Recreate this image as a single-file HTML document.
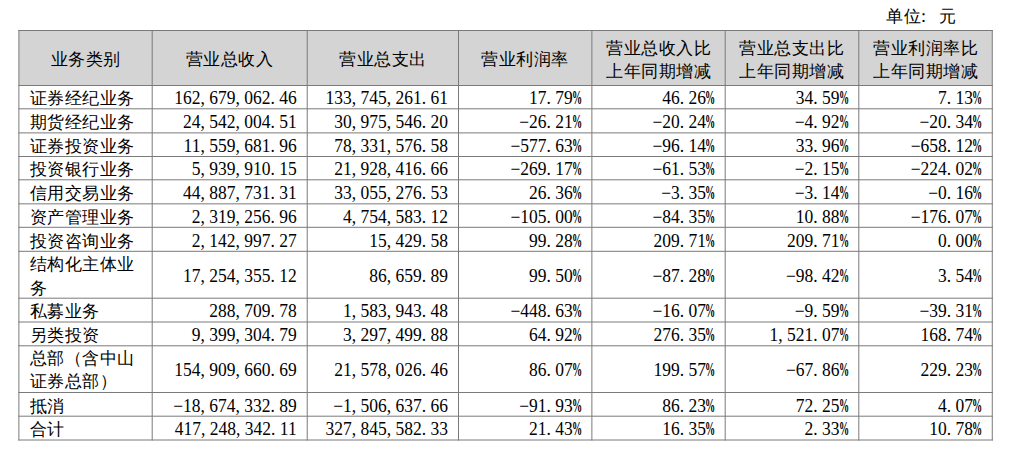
<!DOCTYPE html><html><head><meta charset="utf-8"><style>
*{margin:0;padding:0}
html,body{width:1015px;height:454px;background:#fff;overflow:hidden}
body{position:relative;font-family:"Liberation Serif",serif;font-size:17.5px;color:#000}
.t{position:absolute;white-space:nowrap;line-height:23px}
.c{position:absolute;display:flex;align-items:center;box-sizing:border-box;white-space:nowrap;line-height:23.4px}
.h{justify-content:center;text-align:center;line-height:22.5px}
.l{justify-content:flex-start;padding-left:11px}
.r{justify-content:flex-end;padding-right:10.5px}
b{font-weight:350;font-size:17px;letter-spacing:0.5px;position:relative;top:2px}
.h b{top:2.5px}
em{font-style:normal;color:#000;font-size:17.5px;position:relative;top:2.0px;display:inline-block;transform:scaleY(1.03);transform-origin:50% 60%}
i{display:inline-block;width:.5em;font-style:normal}
.col{position:relative;left:-6px}
u{display:inline-block;width:.5em;text-decoration:none}
u span{display:inline-block;transform:scaleX(0.58);transform-origin:0 50%;position:relative;left:-1px}
s{display:inline-block;width:.5em;text-decoration:none;position:relative;left:-1px}
u span{font-weight:700}
</style></head><body><div style="position:absolute;left:18.89px;top:30.5px;width:973.39px;height:55.0px;background:#d4d4d4"></div>
<svg width="1015" height="454" style="position:absolute;left:0;top:0"><line x1="18.89" y1="30.0" x2="18.89" y2="440.5" stroke="#7a7a7a" stroke-width="1"/><line x1="152.19" y1="30.0" x2="152.19" y2="440.5" stroke="#7a7a7a" stroke-width="1"/><line x1="307.22" y1="30.0" x2="307.22" y2="440.5" stroke="#7a7a7a" stroke-width="1"/><line x1="458.5" y1="30.0" x2="458.5" y2="440.5" stroke="#7a7a7a" stroke-width="1"/><line x1="591.89" y1="30.0" x2="591.89" y2="440.5" stroke="#7a7a7a" stroke-width="1"/><line x1="725.19" y1="30.0" x2="725.19" y2="440.5" stroke="#7a7a7a" stroke-width="1"/><line x1="858.81" y1="30.0" x2="858.81" y2="440.5" stroke="#7a7a7a" stroke-width="1"/><line x1="992.28" y1="30.0" x2="992.28" y2="440.5" stroke="#7a7a7a" stroke-width="1"/><line x1="18.39" y1="30.5" x2="992.78" y2="30.5" stroke="#7a7a7a" stroke-width="1"/><line x1="18.39" y1="85.5" x2="992.78" y2="85.5" stroke="#7a7a7a" stroke-width="1"/><line x1="18.39" y1="108.8" x2="992.78" y2="108.8" stroke="#7a7a7a" stroke-width="1"/><line x1="18.39" y1="132.9" x2="992.78" y2="132.9" stroke="#7a7a7a" stroke-width="1"/><line x1="18.39" y1="156.5" x2="992.78" y2="156.5" stroke="#7a7a7a" stroke-width="1"/><line x1="18.39" y1="179.8" x2="992.78" y2="179.8" stroke="#7a7a7a" stroke-width="1"/><line x1="18.39" y1="203.85" x2="992.78" y2="203.85" stroke="#7a7a7a" stroke-width="1"/><line x1="18.39" y1="227.3" x2="992.78" y2="227.3" stroke="#7a7a7a" stroke-width="1"/><line x1="18.39" y1="251.3" x2="992.78" y2="251.3" stroke="#7a7a7a" stroke-width="1"/><line x1="18.39" y1="298.2" x2="992.78" y2="298.2" stroke="#7a7a7a" stroke-width="1"/><line x1="18.39" y1="322.0" x2="992.78" y2="322.0" stroke="#7a7a7a" stroke-width="1"/><line x1="18.39" y1="345.8" x2="992.78" y2="345.8" stroke="#7a7a7a" stroke-width="1"/><line x1="18.39" y1="392.5" x2="992.78" y2="392.5" stroke="#7a7a7a" stroke-width="1"/><line x1="18.39" y1="416.2" x2="992.78" y2="416.2" stroke="#7a7a7a" stroke-width="1"/><line x1="18.39" y1="440.0" x2="992.78" y2="440.0" stroke="#7a7a7a" stroke-width="1"/></svg>
<div class="t" style="left:886px;top:3px"><b>单位<span class=col>：</span>元</b></div>
<div class="c h" style="left:18.89px;top:30.5px;width:133.3px;height:55.0px"><b>业务类别</b></div>
<div class="c h" style="left:152.19px;top:30.5px;width:155.03000000000003px;height:55.0px"><b>营业总收入</b></div>
<div class="c h" style="left:307.22px;top:30.5px;width:151.27999999999997px;height:55.0px"><b>营业总支出</b></div>
<div class="c h" style="left:458.5px;top:30.5px;width:133.39px;height:55.0px"><b>营业利润率</b></div>
<div class="c h" style="left:591.89px;top:30.5px;width:133.30000000000007px;height:55.0px"><b>营业总收入比<br>上年同期增减</b></div>
<div class="c h" style="left:725.19px;top:30.5px;width:133.6199999999999px;height:55.0px"><b>营业总支出比<br>上年同期增减</b></div>
<div class="c h" style="left:858.81px;top:30.5px;width:133.47000000000003px;height:55.0px"><b>营业利润率比<br>上年同期增减</b></div>
<div class="c l" style="left:18.89px;top:85.5px;width:133.3px;height:23.299999999999997px"><b>证券经纪业务</b></div>
<div class="c r" style="left:152.19px;top:85.5px;width:155.03000000000003px;height:23.299999999999997px"><em>162<i>,</i>679<i>,</i>062<i>.</i>46</em></div>
<div class="c r" style="left:307.22px;top:85.5px;width:151.27999999999997px;height:23.299999999999997px"><em>133<i>,</i>745<i>,</i>261<i>.</i>61</em></div>
<div class="c r" style="left:458.5px;top:85.5px;width:133.39px;height:23.299999999999997px"><em>17<i>.</i>79<u><span>%</span></u></em></div>
<div class="c r" style="left:591.89px;top:85.5px;width:133.30000000000007px;height:23.299999999999997px"><em>46<i>.</i>26<u><span>%</span></u></em></div>
<div class="c r" style="left:725.19px;top:85.5px;width:133.6199999999999px;height:23.299999999999997px"><em>34<i>.</i>59<u><span>%</span></u></em></div>
<div class="c r" style="left:858.81px;top:85.5px;width:133.47000000000003px;height:23.299999999999997px"><em>7<i>.</i>13<u><span>%</span></u></em></div>
<div class="c l" style="left:18.89px;top:108.8px;width:133.3px;height:24.10000000000001px"><b>期货经纪业务</b></div>
<div class="c r" style="left:152.19px;top:108.8px;width:155.03000000000003px;height:24.10000000000001px"><em>24<i>,</i>542<i>,</i>004<i>.</i>51</em></div>
<div class="c r" style="left:307.22px;top:108.8px;width:151.27999999999997px;height:24.10000000000001px"><em>30<i>,</i>975<i>,</i>546<i>.</i>20</em></div>
<div class="c r" style="left:458.5px;top:108.8px;width:133.39px;height:24.10000000000001px"><em><s>−</s>26<i>.</i>21<u><span>%</span></u></em></div>
<div class="c r" style="left:591.89px;top:108.8px;width:133.30000000000007px;height:24.10000000000001px"><em><s>−</s>20<i>.</i>24<u><span>%</span></u></em></div>
<div class="c r" style="left:725.19px;top:108.8px;width:133.6199999999999px;height:24.10000000000001px"><em><s>−</s>4<i>.</i>92<u><span>%</span></u></em></div>
<div class="c r" style="left:858.81px;top:108.8px;width:133.47000000000003px;height:24.10000000000001px"><em><s>−</s>20<i>.</i>34<u><span>%</span></u></em></div>
<div class="c l" style="left:18.89px;top:132.9px;width:133.3px;height:23.599999999999994px"><b>证券投资业务</b></div>
<div class="c r" style="left:152.19px;top:132.9px;width:155.03000000000003px;height:23.599999999999994px"><em>11<i>,</i>559<i>,</i>681<i>.</i>96</em></div>
<div class="c r" style="left:307.22px;top:132.9px;width:151.27999999999997px;height:23.599999999999994px"><em>78<i>,</i>331<i>,</i>576<i>.</i>58</em></div>
<div class="c r" style="left:458.5px;top:132.9px;width:133.39px;height:23.599999999999994px"><em><s>−</s>577<i>.</i>63<u><span>%</span></u></em></div>
<div class="c r" style="left:591.89px;top:132.9px;width:133.30000000000007px;height:23.599999999999994px"><em><s>−</s>96<i>.</i>14<u><span>%</span></u></em></div>
<div class="c r" style="left:725.19px;top:132.9px;width:133.6199999999999px;height:23.599999999999994px"><em>33<i>.</i>96<u><span>%</span></u></em></div>
<div class="c r" style="left:858.81px;top:132.9px;width:133.47000000000003px;height:23.599999999999994px"><em><s>−</s>658<i>.</i>12<u><span>%</span></u></em></div>
<div class="c l" style="left:18.89px;top:156.5px;width:133.3px;height:23.30000000000001px"><b>投资银行业务</b></div>
<div class="c r" style="left:152.19px;top:156.5px;width:155.03000000000003px;height:23.30000000000001px"><em>5<i>,</i>939<i>,</i>910<i>.</i>15</em></div>
<div class="c r" style="left:307.22px;top:156.5px;width:151.27999999999997px;height:23.30000000000001px"><em>21<i>,</i>928<i>,</i>416<i>.</i>66</em></div>
<div class="c r" style="left:458.5px;top:156.5px;width:133.39px;height:23.30000000000001px"><em><s>−</s>269<i>.</i>17<u><span>%</span></u></em></div>
<div class="c r" style="left:591.89px;top:156.5px;width:133.30000000000007px;height:23.30000000000001px"><em><s>−</s>61<i>.</i>53<u><span>%</span></u></em></div>
<div class="c r" style="left:725.19px;top:156.5px;width:133.6199999999999px;height:23.30000000000001px"><em><s>−</s>2<i>.</i>15<u><span>%</span></u></em></div>
<div class="c r" style="left:858.81px;top:156.5px;width:133.47000000000003px;height:23.30000000000001px"><em><s>−</s>224<i>.</i>02<u><span>%</span></u></em></div>
<div class="c l" style="left:18.89px;top:179.8px;width:133.3px;height:24.049999999999983px"><b>信用交易业务</b></div>
<div class="c r" style="left:152.19px;top:179.8px;width:155.03000000000003px;height:24.049999999999983px"><em>44<i>,</i>887<i>,</i>731<i>.</i>31</em></div>
<div class="c r" style="left:307.22px;top:179.8px;width:151.27999999999997px;height:24.049999999999983px"><em>33<i>,</i>055<i>,</i>276<i>.</i>53</em></div>
<div class="c r" style="left:458.5px;top:179.8px;width:133.39px;height:24.049999999999983px"><em>26<i>.</i>36<u><span>%</span></u></em></div>
<div class="c r" style="left:591.89px;top:179.8px;width:133.30000000000007px;height:24.049999999999983px"><em><s>−</s>3<i>.</i>35<u><span>%</span></u></em></div>
<div class="c r" style="left:725.19px;top:179.8px;width:133.6199999999999px;height:24.049999999999983px"><em><s>−</s>3<i>.</i>14<u><span>%</span></u></em></div>
<div class="c r" style="left:858.81px;top:179.8px;width:133.47000000000003px;height:24.049999999999983px"><em><s>−</s>0<i>.</i>16<u><span>%</span></u></em></div>
<div class="c l" style="left:18.89px;top:203.85px;width:133.3px;height:23.450000000000017px"><b>资产管理业务</b></div>
<div class="c r" style="left:152.19px;top:203.85px;width:155.03000000000003px;height:23.450000000000017px"><em>2<i>,</i>319<i>,</i>256<i>.</i>96</em></div>
<div class="c r" style="left:307.22px;top:203.85px;width:151.27999999999997px;height:23.450000000000017px"><em>4<i>,</i>754<i>,</i>583<i>.</i>12</em></div>
<div class="c r" style="left:458.5px;top:203.85px;width:133.39px;height:23.450000000000017px"><em><s>−</s>105<i>.</i>00<u><span>%</span></u></em></div>
<div class="c r" style="left:591.89px;top:203.85px;width:133.30000000000007px;height:23.450000000000017px"><em><s>−</s>84<i>.</i>35<u><span>%</span></u></em></div>
<div class="c r" style="left:725.19px;top:203.85px;width:133.6199999999999px;height:23.450000000000017px"><em>10<i>.</i>88<u><span>%</span></u></em></div>
<div class="c r" style="left:858.81px;top:203.85px;width:133.47000000000003px;height:23.450000000000017px"><em><s>−</s>176<i>.</i>07<u><span>%</span></u></em></div>
<div class="c l" style="left:18.89px;top:227.3px;width:133.3px;height:24.0px"><b>投资咨询业务</b></div>
<div class="c r" style="left:152.19px;top:227.3px;width:155.03000000000003px;height:24.0px"><em>2<i>,</i>142<i>,</i>997<i>.</i>27</em></div>
<div class="c r" style="left:307.22px;top:227.3px;width:151.27999999999997px;height:24.0px"><em>15<i>,</i>429<i>.</i>58</em></div>
<div class="c r" style="left:458.5px;top:227.3px;width:133.39px;height:24.0px"><em>99<i>.</i>28<u><span>%</span></u></em></div>
<div class="c r" style="left:591.89px;top:227.3px;width:133.30000000000007px;height:24.0px"><em>209<i>.</i>71<u><span>%</span></u></em></div>
<div class="c r" style="left:725.19px;top:227.3px;width:133.6199999999999px;height:24.0px"><em>209<i>.</i>71<u><span>%</span></u></em></div>
<div class="c r" style="left:858.81px;top:227.3px;width:133.47000000000003px;height:24.0px"><em>0<i>.</i>00<u><span>%</span></u></em></div>
<div class="c l" style="left:18.89px;top:251.3px;width:133.3px;height:46.89999999999998px"><b>结构化主体业<br>务</b></div>
<div class="c r" style="left:152.19px;top:251.3px;width:155.03000000000003px;height:46.89999999999998px"><em>17<i>,</i>254<i>,</i>355<i>.</i>12</em></div>
<div class="c r" style="left:307.22px;top:251.3px;width:151.27999999999997px;height:46.89999999999998px"><em>86<i>,</i>659<i>.</i>89</em></div>
<div class="c r" style="left:458.5px;top:251.3px;width:133.39px;height:46.89999999999998px"><em>99<i>.</i>50<u><span>%</span></u></em></div>
<div class="c r" style="left:591.89px;top:251.3px;width:133.30000000000007px;height:46.89999999999998px"><em><s>−</s>87<i>.</i>28<u><span>%</span></u></em></div>
<div class="c r" style="left:725.19px;top:251.3px;width:133.6199999999999px;height:46.89999999999998px"><em><s>−</s>98<i>.</i>42<u><span>%</span></u></em></div>
<div class="c r" style="left:858.81px;top:251.3px;width:133.47000000000003px;height:46.89999999999998px"><em>3<i>.</i>54<u><span>%</span></u></em></div>
<div class="c l" style="left:18.89px;top:298.2px;width:133.3px;height:23.80000000000001px"><b>私募业务</b></div>
<div class="c r" style="left:152.19px;top:298.2px;width:155.03000000000003px;height:23.80000000000001px"><em>288<i>,</i>709<i>.</i>78</em></div>
<div class="c r" style="left:307.22px;top:298.2px;width:151.27999999999997px;height:23.80000000000001px"><em>1<i>,</i>583<i>,</i>943<i>.</i>48</em></div>
<div class="c r" style="left:458.5px;top:298.2px;width:133.39px;height:23.80000000000001px"><em><s>−</s>448<i>.</i>63<u><span>%</span></u></em></div>
<div class="c r" style="left:591.89px;top:298.2px;width:133.30000000000007px;height:23.80000000000001px"><em><s>−</s>16<i>.</i>07<u><span>%</span></u></em></div>
<div class="c r" style="left:725.19px;top:298.2px;width:133.6199999999999px;height:23.80000000000001px"><em><s>−</s>9<i>.</i>59<u><span>%</span></u></em></div>
<div class="c r" style="left:858.81px;top:298.2px;width:133.47000000000003px;height:23.80000000000001px"><em><s>−</s>39<i>.</i>31<u><span>%</span></u></em></div>
<div class="c l" style="left:18.89px;top:322.0px;width:133.3px;height:23.80000000000001px"><b>另类投资</b></div>
<div class="c r" style="left:152.19px;top:322.0px;width:155.03000000000003px;height:23.80000000000001px"><em>9<i>,</i>399<i>,</i>304<i>.</i>79</em></div>
<div class="c r" style="left:307.22px;top:322.0px;width:151.27999999999997px;height:23.80000000000001px"><em>3<i>,</i>297<i>,</i>499<i>.</i>88</em></div>
<div class="c r" style="left:458.5px;top:322.0px;width:133.39px;height:23.80000000000001px"><em>64<i>.</i>92<u><span>%</span></u></em></div>
<div class="c r" style="left:591.89px;top:322.0px;width:133.30000000000007px;height:23.80000000000001px"><em>276<i>.</i>35<u><span>%</span></u></em></div>
<div class="c r" style="left:725.19px;top:322.0px;width:133.6199999999999px;height:23.80000000000001px"><em>1<i>,</i>521<i>.</i>07<u><span>%</span></u></em></div>
<div class="c r" style="left:858.81px;top:322.0px;width:133.47000000000003px;height:23.80000000000001px"><em>168<i>.</i>74<u><span>%</span></u></em></div>
<div class="c l" style="left:18.89px;top:345.8px;width:133.3px;height:46.69999999999999px"><b><span style="position:relative;top:-0.8px">总部（含中山<br>证券总部）</span></b></div>
<div class="c r" style="left:152.19px;top:345.8px;width:155.03000000000003px;height:46.69999999999999px"><em>154<i>,</i>909<i>,</i>660<i>.</i>69</em></div>
<div class="c r" style="left:307.22px;top:345.8px;width:151.27999999999997px;height:46.69999999999999px"><em>21<i>,</i>578<i>,</i>026<i>.</i>46</em></div>
<div class="c r" style="left:458.5px;top:345.8px;width:133.39px;height:46.69999999999999px"><em>86<i>.</i>07<u><span>%</span></u></em></div>
<div class="c r" style="left:591.89px;top:345.8px;width:133.30000000000007px;height:46.69999999999999px"><em>199<i>.</i>57<u><span>%</span></u></em></div>
<div class="c r" style="left:725.19px;top:345.8px;width:133.6199999999999px;height:46.69999999999999px"><em><s>−</s>67<i>.</i>86<u><span>%</span></u></em></div>
<div class="c r" style="left:858.81px;top:345.8px;width:133.47000000000003px;height:46.69999999999999px"><em>229<i>.</i>23<u><span>%</span></u></em></div>
<div class="c l" style="left:18.89px;top:392.5px;width:133.3px;height:23.69999999999999px"><b>抵消</b></div>
<div class="c r" style="left:152.19px;top:392.5px;width:155.03000000000003px;height:23.69999999999999px"><em><s>−</s>18<i>,</i>674<i>,</i>332<i>.</i>89</em></div>
<div class="c r" style="left:307.22px;top:392.5px;width:151.27999999999997px;height:23.69999999999999px"><em><s>−</s>1<i>,</i>506<i>,</i>637<i>.</i>66</em></div>
<div class="c r" style="left:458.5px;top:392.5px;width:133.39px;height:23.69999999999999px"><em><s>−</s>91<i>.</i>93<u><span>%</span></u></em></div>
<div class="c r" style="left:591.89px;top:392.5px;width:133.30000000000007px;height:23.69999999999999px"><em>86<i>.</i>23<u><span>%</span></u></em></div>
<div class="c r" style="left:725.19px;top:392.5px;width:133.6199999999999px;height:23.69999999999999px"><em>72<i>.</i>25<u><span>%</span></u></em></div>
<div class="c r" style="left:858.81px;top:392.5px;width:133.47000000000003px;height:23.69999999999999px"><em>4<i>.</i>07<u><span>%</span></u></em></div>
<div class="c l" style="left:18.89px;top:416.2px;width:133.3px;height:23.80000000000001px"><b>合计</b></div>
<div class="c r" style="left:152.19px;top:416.2px;width:155.03000000000003px;height:23.80000000000001px"><em>417<i>,</i>248<i>,</i>342<i>.</i>11</em></div>
<div class="c r" style="left:307.22px;top:416.2px;width:151.27999999999997px;height:23.80000000000001px"><em>327<i>,</i>845<i>,</i>582<i>.</i>33</em></div>
<div class="c r" style="left:458.5px;top:416.2px;width:133.39px;height:23.80000000000001px"><em>21<i>.</i>43<u><span>%</span></u></em></div>
<div class="c r" style="left:591.89px;top:416.2px;width:133.30000000000007px;height:23.80000000000001px"><em>16<i>.</i>35<u><span>%</span></u></em></div>
<div class="c r" style="left:725.19px;top:416.2px;width:133.6199999999999px;height:23.80000000000001px"><em>2<i>.</i>33<u><span>%</span></u></em></div>
<div class="c r" style="left:858.81px;top:416.2px;width:133.47000000000003px;height:23.80000000000001px"><em>10<i>.</i>78<u><span>%</span></u></em></div></body></html>
